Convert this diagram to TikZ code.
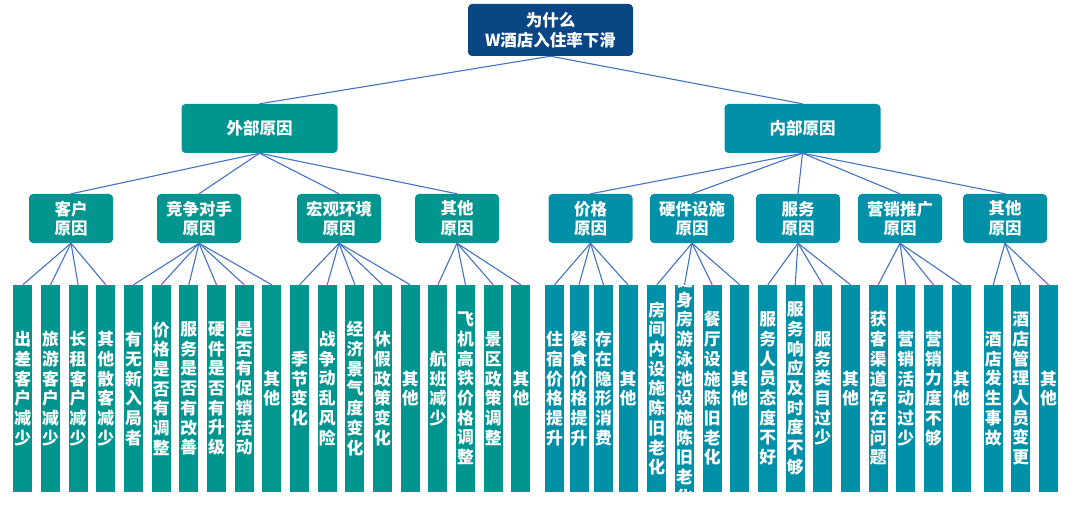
\documentclass[tikz,border=0pt]{standalone}
\usepackage{fontspec}
\setmainfont{Noto Sans CJK SC}
\definecolor{rootc}{HTML}{0A4684}
\definecolor{tealL}{HTML}{00968F}
\definecolor{tealR}{HTML}{0091A9}
\definecolor{linec}{HTML}{4472C4}
\makeatletter
\def\vt#1{\vtA#1\vtend}
\def\vtA#1{\ifx#1\vtend\else#1\expandafter\vtB\fi}
\def\vtB#1{\ifx#1\vtend\else\\#1\expandafter\vtB\fi}
\makeatother
\newcommand\leaf[4]{%
  \node[leafbox,#3] (#1) at (#2,388.5) {};
  \begin{scope}
    \clip (#1.south west) rectangle (#1.north east);
    \node[leaftext] at (#1.center) {\vt{#4}};
  \end{scope}}
\begin{document}
\begin{tikzpicture}[x=1pt,y=-1pt,
  box/.style={rounded corners=4pt, inner sep=0pt, text=white, align=center,
    font=\fontsize{16.5}{19.5}\selectfont\bfseries},
  rootbox/.style={box, fill=rootc, minimum width=165pt, minimum height=52pt,
    font=\fontsize{16.5}{20}\selectfont\bfseries},
  lvA/.style={box, minimum width=156pt, minimum height=49pt},
  lvB/.style={box, minimum width=84pt, minimum height=49pt},
  leafbox/.style={inner sep=0pt, minimum width=19pt, minimum height=207pt},
  leaftext/.style={text=white, align=center, inner sep=0pt,
    font=\fontsize{16.8}{19.7}\selectfont\bfseries},
  conn/.style={draw=linec, line width=1.1pt},
  L/.style={fill=tealL}, R/.style={fill=tealR}]
\useasboundingbox (0,0) rectangle (1080,516);

% root and level 1
\node[rootbox] (root) at (550.5,30) {为什么\\W酒店入住率下滑};
\node[lvA,L] (ext) at (259.5,128.5) {外部原因};
\node[lvA,R] (int) at (802.5,128.5) {内部原因};

% level 2
\node[lvB,L] (cust) at (71,218.5) {客户\\原因};
\node[lvB,L] (comp) at (199,218.5) {竞争对手\\原因};
\node[lvB,L] (macro) at (339,218.5) {宏观环境\\原因};
\node[lvB,L] (othA) at (457,218.5) {其他\\原因};
\node[lvB,R] (price) at (590.5,218.5) {价格\\原因};
\node[lvB,R] (hard) at (692,218.5) {硬件设施\\原因};
\node[lvB,R] (serv) at (798,218.5) {服务\\原因};
\node[lvB,R] (mkt) at (900,218.5) {营销推广\\原因};
\node[lvB,R] (othB) at (1005,218.5) {其他\\原因};

% leaves, external
\leaf{a1}{22.8}{L}{出差客户减少}
\leaf{a2}{50.5}{L}{旅游客户减少}
\leaf{a3}{78.1}{L}{长租客户减少}
\leaf{a4}{105.8}{L}{其他散客减少}
\leaf{b1}{133.5}{L}{有无新入局者}
\leaf{b2}{161.2}{L}{价格是否有调整}
\leaf{b3}{188.8}{L}{服务是否有改善}
\leaf{b4}{216.5}{L}{硬件是否有升级}
\leaf{b5}{244.2}{L}{是否有促销活动}
\leaf{b6}{271.8}{L}{其他}
\leaf{c1}{299.5}{L}{季节变化}
\leaf{c2}{327.2}{L}{战争动乱风险}
\leaf{c3}{354.9}{L}{经济景气度变化}
\leaf{c4}{382.5}{L}{休假政策变化}
\leaf{c5}{410.2}{L}{其他}
\leaf{d1}{437.9}{L}{航班减少}
\leaf{d2}{465.5}{L}{飞机高铁价格调整}
\leaf{d3}{493.2}{L}{景区政策调整}
\leaf{d4}{520.9}{L}{其他}
% leaves, internal
\leaf{e1}{554.5}{R}{住宿价格提升}
\leaf{e2}{579}{R}{餐食价格提升}
\leaf{e3}{603.5}{R}{存在隐形消费}
\leaf{e4}{628}{R}{其他}
\leaf{f1}{656.8}{R}{房间内设施陈旧老化}
\leaf{f2}{684.5}{R}{健身房游泳池设施陈旧老化}
\leaf{f3}{712.2}{R}{餐厅设施陈旧老化}
\leaf{f4}{739.8}{R}{其他}
\leaf{g1}{767.8}{R}{服务人员态度不好}
\leaf{g2}{795.2}{R}{服务响应及时度不够}
\leaf{g3}{822.8}{R}{服务类目过少}
\leaf{g4}{850.5}{R}{其他}
\leaf{h1}{878.2}{R}{获客渠道存在问题}
\leaf{h2}{905.8}{R}{营销活动过少}
\leaf{h3}{933.5}{R}{营销力度不够}
\leaf{h4}{961.2}{R}{其他}
\leaf{i1}{993.2}{R}{酒店发生事故}
\leaf{i2}{1020.8}{R}{酒店管理人员变更}
\leaf{i3}{1048.5}{R}{其他}

% connectors
\draw[conn] (root.south) -- (ext.north);
\draw[conn] (root.south) -- (int.north);
\foreach \c in {cust,comp,macro,othA} \draw[conn] (ext.south) -- (\c.north);
\foreach \c in {price,hard,serv,mkt,othB} \draw[conn] (int.south) -- (\c.north);
\foreach \c in {a1,a2,a3,a4} \draw[conn] (cust.south) -- (\c.north);
\foreach \c in {b1,b2,b3,b4,b5,b6} \draw[conn] (comp.south) -- (\c.north);
\foreach \c in {c1,c2,c3,c4,c5} \draw[conn] (macro.south) -- (\c.north);
\foreach \c in {d1,d2,d3,d4} \draw[conn] (othA.south) -- (\c.north);
\foreach \c in {e1,e2,e3,e4} \draw[conn] (price.south) -- (\c.north);
\foreach \c in {f1,f2,f3,f4} \draw[conn] (hard.south) -- (\c.north);
\foreach \c in {g1,g2,g3,g4} \draw[conn] (serv.south) -- (\c.north);
\foreach \c in {h1,h2,h3,h4} \draw[conn] (mkt.south) -- (\c.north);
\foreach \c in {i1,i2,i3} \draw[conn] (othB.south) -- (\c.north);
\end{tikzpicture}
\end{document}
